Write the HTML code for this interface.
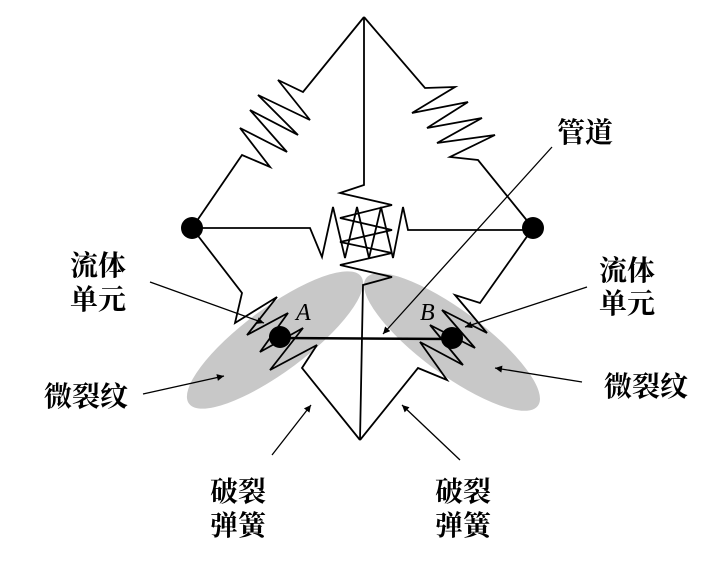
<!DOCTYPE html>
<html><head><meta charset="utf-8"><style>
html,body{margin:0;padding:0;background:#fff;width:715px;height:563px;overflow:hidden}
svg{display:block}
.t{font-family:"Liberation Serif","Noto Serif CJK SC",serif;font-size:28px;font-weight:bold;fill:#000}
.it{font-family:"Liberation Serif",serif;font-size:24px;font-style:italic;fill:#000}
</style></head><body>
<svg width="715" height="563" viewBox="0 0 715 563" xmlns="http://www.w3.org/2000/svg">
<defs>
<marker id="ah" viewBox="0 0 10 10" refX="10" refY="5" markerWidth="9" markerHeight="7" orient="auto" markerUnits="userSpaceOnUse">
<path d="M0,0 L10,5 L0,10 z" fill="#000"/></marker>
</defs>
<ellipse cx="275" cy="340" rx="107" ry="32" transform="rotate(-36.5 275 340)" fill="#c8c8c8"/>
<ellipse cx="452" cy="342" rx="107" ry="32" transform="rotate(36.6 452 342)" fill="#c8c8c8"/>
<g fill="none" stroke="#000" stroke-width="1.8" stroke-linejoin="miter">
<polyline points="192,228 242,155 270,167 240,128 287,152 250,110 298,135 258,95 310,120 278,80 303,92 364,17"/>
<polyline points="364,17 425,88 455,87 412,113 468,102 427,128 482,118 437,143 495,135 450,157 478,160 533,228"/>
<polyline points="192,228 242,293 235,323 277,297 247,335 288,313 260,352 303,328 270,370 317,345 302,368 360,440"/>
<polyline points="533,228 480,303 455,295 487,333 442,310 475,348 430,325 463,365 420,342 447,380 418,368 360,440"/>
<polyline points="364,17 364,185 340,193 392,205 340,218 392,230 340,242 392,253 340,265 392,277 363,285 360,440"/>
<polyline points="192,228 310,228 322,257 333,207 345,258 357,207 369,258 381,207 393,258 403,207 408,230 533,230"/>
<line x1="280" y1="338" x2="452" y2="339" stroke-width="2.5"/>
</g>
<circle cx="192" cy="228" r="11" fill="#000"/>
<circle cx="533" cy="228" r="11" fill="#000"/>
<circle cx="280" cy="337" r="11" fill="#000"/>
<circle cx="452" cy="338" r="11" fill="#000"/>
<g stroke="#000" stroke-width="1.3" fill="none" marker-end="url(#ah)">
<line x1="552" y1="147" x2="383" y2="334"/>
<line x1="150" y1="282" x2="264" y2="323"/>
<line x1="143" y1="394" x2="224" y2="376"/>
<line x1="272" y1="455" x2="311" y2="405"/>
<line x1="460" y1="460" x2="402" y2="405"/>
<line x1="582" y1="382" x2="495" y2="368"/>
<line x1="587" y1="287" x2="465" y2="327"/>
</g>
<text x="296" y="320" class="it">A</text>
<text x="420" y="320" class="it">B</text>
<text x="557" y="142" class="t">管道</text>
<text x="70" y="275" class="t">流体</text>
<text x="70" y="309" class="t">单元</text>
<text x="599" y="280" class="t">流体</text>
<text x="599" y="313" class="t">单元</text>
<text x="44" y="406" class="t">微裂纹</text>
<text x="604" y="396" class="t">微裂纹</text>
<text x="210" y="501" class="t">破裂</text>
<text x="210" y="535" class="t">弹簧</text>
<text x="435" y="501" class="t">破裂</text>
<text x="435" y="535" class="t">弹簧</text>
</svg>
</body></html>
